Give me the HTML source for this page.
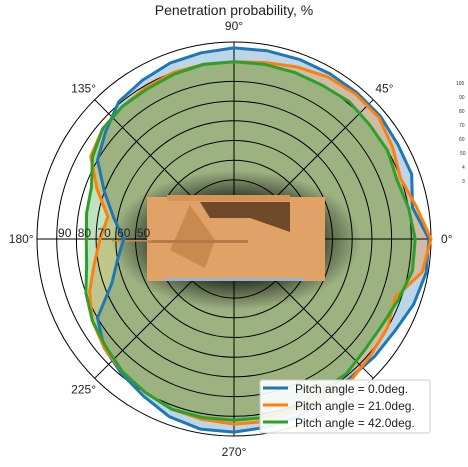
<!DOCTYPE html>
<html><head><meta charset="utf-8"><style>
html,body{margin:0;padding:0;background:#fff;width:468px;height:467px;overflow:hidden}
svg{display:block;font-family:"Liberation Sans","DejaVu Sans",sans-serif}
</style></head><body>
<svg id="chart" width="468" height="467" viewBox="0 0 468 467">
<defs>
<radialGradient id="shadow" cx="0.5" cy="0.5" r="0.5">
<stop offset="0.55" stop-color="#000" stop-opacity="0.75"/>
<stop offset="1" stop-color="#000" stop-opacity="0"/>
</radialGradient>
</defs>
<text x="234" y="15" text-anchor="middle" font-size="14" fill="#222">Penetration probability, %</text>
<g id="fills"></g>
<g id="grid"></g>
<g id="tank">
<ellipse cx="236" cy="240" rx="125" ry="70" fill="url(#shadow)"/>
<rect x="147" y="197" width="178" height="84" fill="#e0a266"/>
<rect x="167" y="195" width="123" height="6" fill="#d69556"/>
<polygon points="200,202 290,202 290,232 250,218 210,218" fill="#6e4a2a"/>
<polygon points="190,205 215,240 205,268 170,250" fill="#c98a4f"/>
<rect x="148" y="240" width="100" height="3" fill="#b57a45"/>
<rect x="112" y="240" width="40" height="1.5" fill="#c98a4f"/>
<rect x="165" y="278" width="140" height="3" fill="#9fb3c8"/>
</g>
<g id="lines"></g>
<g id="labels" font-size="12" fill="#222"></g>
<g font-size="5" fill="#333">
<text x="456" y="85">100</text><text x="459" y="99">90</text><text x="459" y="113">80</text><text x="459" y="127">70</text><text x="459" y="141">60</text><text x="460" y="155">50</text><text x="462" y="169">4</text><text x="462" y="183">3</text>
</g>
<g>
<rect x="260" y="380" width="170" height="53" fill="#fff" fill-opacity="0.9" stroke="#ccc" rx="2"/>
<line x1="263" y1="388" x2="288" y2="388" stroke="#1f77b4" stroke-width="3"/>
<text x="295" y="393" font-size="12" fill="#222">Pitch angle = 0.0deg.</text>
<line x1="263" y1="405" x2="288" y2="405" stroke="#ff7f0e" stroke-width="3"/>
<text x="295" y="410" font-size="12" fill="#222">Pitch angle = 21.0deg.</text>
<line x1="263" y1="422" x2="288" y2="422" stroke="#2ca02c" stroke-width="3"/>
<text x="295" y="427" font-size="12" fill="#222">Pitch angle = 42.0deg.</text>
</g>
</svg>
<script>
const angles = [0,10,20,30,40,50,60,70,80,90,100,110,120,130,140,150,160,170,180,190,200,210,220,230,240,250,260,270,280,290,300,310,320,330,340,350];
const pitch0 = [99,92,96,96,97,97,97,97,97,97,96,95,93,91,85,80,70,62,56,60,66,80,86,89,92,96,98,98,97,96,93,92,93,94,97,99];
const pitch21 = [100,94,90,93,96,96,95,93,91,90,90,90,89,88,87,84,74,65,68,72,78,83,86,88,90,92,93,94,94,93,92,93,91,90,87,97];
const pitch42 = [92,90,88,90,90,91,90,90,90,90,90,89,88,88,87,83,77,76,75,76,80,83,85,88,90,92,92,92,92,91,89,89,87,87,89,92];
const ringTicks = [10,20,30,40,50,60,70,80,90];
const ringLabels = ["50","60","70","80","90"];
const spokeAngles = [0,45,90,135];
const angleLabels = ["0°","45°","90°","135°","180°","225°","270°"];
const angleLabelDeg = [0,45,90,135,180,225,270];

const cx=234, cy=239, R=197, rMax=100;
const rScale = v => v/rMax*R;
const px = (a,v) => cx + rScale(v)*Math.cos(a*Math.PI/180);
const py = (a,v) => cy - rScale(v)*Math.sin(a*Math.PI/180);
const NS="http://www.w3.org/2000/svg";
function mk(tag, attrs){const e=document.createElementNS(NS,tag);for(const k in attrs)e.setAttribute(k,attrs[k]);return e;}

const series=[[pitch0,"#1f77b4","series-pitch-0"],[pitch21,"#ff7f0e","series-pitch-21"],[pitch42,"#2ca02c","series-pitch-42"]];
const fills=document.getElementById('fills'), lines=document.getElementById('lines');
series.forEach(([vals,col,name])=>{
  const pts=angles.map((a,i)=>px(a,vals[i]).toFixed(1)+","+py(a,vals[i]).toFixed(1)).join(" ");
  const f=mk('polygon',{points:pts,fill:col,'fill-opacity':0.3,stroke:'none'});
  
  
  fills.appendChild(f);
  const l=mk('polygon',{points:pts,fill:'none',stroke:col,'stroke-width':3,'stroke-linejoin':'round'});
  
  
  lines.appendChild(l);
});
const grid=document.getElementById('grid');
ringTicks.forEach(t=>{
  const c=mk('circle',{cx:cx,cy:cy,r:rScale(t),fill:'none',stroke:'#000','stroke-width':1});
  
  
  grid.appendChild(c);
});
const outer=mk('circle',{cx:cx,cy:cy,r:R,fill:'none',stroke:'#000','stroke-width':1});


grid.appendChild(outer);
spokeAngles.forEach(a=>{
  const s=mk('line',{x1:px(a,rMax),y1:py(a,rMax),x2:px(a+180,rMax),y2:py(a+180,rMax),stroke:'#000','stroke-width':1});
  
  
  grid.appendChild(s);
});
const labels=document.getElementById('labels');
angleLabelDeg.forEach((a,i)=>{
  const t=mk('text',{x:px(a,108).toFixed(1),y:(py(a,108)+4).toFixed(1),'text-anchor':'middle'});
  t.textContent=angleLabels[i];
  
  
  labels.appendChild(t);
});
ringLabels.forEach(s=>{
  const v=+s;
  const t=mk('text',{x:(cx-rScale(v)+8).toFixed(1),y:cy-2,'text-anchor':'middle'});
  t.textContent=s;
  
  
  labels.appendChild(t);
});
</script>
</body></html>
